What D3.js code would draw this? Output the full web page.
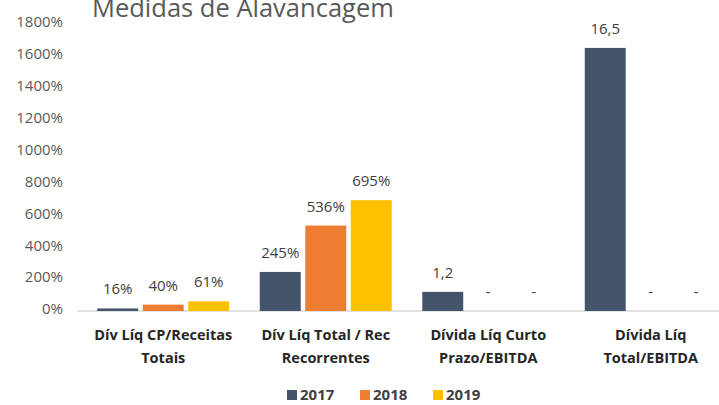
<!DOCTYPE html>
<html>
<head>
<meta charset="utf-8">
<script src="https://cdn.jsdelivr.net/npm/d3@7"></script>
<style>
    body { margin: 0; background: #fff; }
    #vis { width: 719px; height: 405px; overflow: hidden; }
    text { font-family: "Open Sans", sans-serif; }
</style>
</head>
<body>
<div id="vis"></div>
<script>
var categories = ['Dív Líq CP/Receitas|Totais', 'Dív Líq Total / Rec|Recorrentes', 'Dívida Líq Curto|Prazo/EBITDA', 'Dívida Líq|Total/EBITDA'];
var years = ['2017', '2018', '2019'];
var values2017 = [16, 245, 120, 1650];
var values2018 = [40, 536, 0, 0];
var values2019 = [61, 695, 0, 0];
var labels2017 = ['16%', '245%', '1,2', '16,5'];
var labels2018 = ['40%', '536%', '-', '-'];
var labels2019 = ['61%', '695%', '-', '-'];
var yTicks = [0, 200, 400, 600, 800, 1000, 1200, 1400, 1600, 1800];
var colours = ['#44546A', '#ED7D31', '#FFC000'];

var width = 719,
    height = 405;

var svg = d3.select('#vis')
    .append('svg')
    .attr('width', width)
    .attr('height', height);

// build rows from the arrays
var series = [values2017, values2018, values2019];
var seriesLabels = [labels2017, labels2018, labels2019];
var rows = categories.map(function(c, i) {
    return {
        category: c,
        bars: years.map(function(y, j) {
            return { year: y, value: series[j][i], label: seriesLabels[j][i], colour: colours[j] };
        })
    };
});

var x_scale = d3.scaleBand()
    .domain(categories)
    .range([82, 732])
    .paddingInner(0.188)
    .paddingOuter(0.094);

var x_inner = d3.scaleBand()
    .domain(years)
    .range([0, x_scale.bandwidth()])
    .paddingInner(0.1);

var y_scale = d3.scaleLinear()
    .domain([0, 1800])
    .range([311, 24]);

// title (cut off at the top, as in the original)
svg.append('text')
    .attr('x', 92)
    .attr('y', 17)
    .attr('fill', '#595959')
    .style('font-size', '25.5px')
    .text('Medidas de Alavancagem');

// y axis
var y_axis = d3.axisLeft(y_scale)
    .tickValues(yTicks)
    .tickSize(0)
    .tickPadding(0)
    .tickFormat(function(d) { return d + '%'; });

var yg = svg.append('g')
    .attr('class', 'y axis')
    .attr('transform', 'translate(63,-2)')
    .call(y_axis);
yg.select('.domain').remove();
yg.selectAll('text')
    .attr('fill', '#595959')
    .style('font-size', '15px')
    .style('font-family', '"Open Sans", sans-serif');

// baseline
svg.append('line')
    .attr('x1', 77)
    .attr('x2', width)
    .attr('y1', y_scale(0))
    .attr('y2', y_scale(0))
    .attr('stroke', '#d9d9d9')
    .attr('stroke-width', 1.5);

var groups = svg.selectAll('.group')
    .data(rows)
    .enter()
    .append('g')
    .attr('class', 'group')
    .attr('transform', function(d) { return 'translate(' + x_scale(d.category) + ',0)'; });

groups.selectAll('.bar')
    .data(function(d) { return d.bars; })
    .enter()
    .append('rect')
    .attr('class', 'bar')
    .attr('x', function(d) { return x_inner(d.year); })
    .attr('width', x_inner.bandwidth())
    .attr('y', function(d) { return y_scale(d.value); })
    .attr('height', function(d) { return y_scale(0) - y_scale(d.value); })
    .attr('fill', function(d) { return d.colour; });

groups.selectAll('.label')
    .data(function(d) { return d.bars; })
    .enter()
    .append('text')
    .attr('class', 'label')
    .attr('x', function(d) { return x_inner(d.year) + x_inner.bandwidth() / 2; })
    .attr('y', function(d) { return y_scale(d.value) - 14; })
    .attr('text-anchor', 'middle')
    .attr('fill', '#404040')
    .style('font-size', '15px')
    .text(function(d) { return d.label; });

// category labels
var cat = svg.selectAll('.cat')
    .data(categories)
    .enter()
    .append('text')
    .attr('class', 'cat')
    .attr('text-anchor', 'middle')
    .attr('fill', '#262626')
    .style('font-size', '14.5px')
    .style('font-weight', 'bold');

cat.selectAll('tspan')
    .data(function(d) { return d.split('|').map(function(t) { return { text: t, cat: d }; }); })
    .enter()
    .append('tspan')
    .attr('x', function(d) { return x_scale(d.cat) + x_scale.bandwidth() / 2; })
    .attr('y', function(d, i) { return 340 + i * 23; })
    .text(function(d) { return d.text; });

// legend
var legend = svg.selectAll('.legend')
    .data(years)
    .enter()
    .append('g')
    .attr('class', 'legend')
    .attr('transform', function(d, i) { return 'translate(' + (287 + i * 73) + ',394)'; });

legend.append('rect')
    .attr('x', 0)
    .attr('y', -4)
    .attr('width', 10)
    .attr('height', 10)
    .attr('fill', function(d, i) { return colours[i]; });

legend.append('text')
    .attr('x', 13)
    .attr('y', 6)
    .attr('fill', '#404040')
    .style('font-size', '15px')
    .style('font-weight', 'bold')
    .text(function(d) { return d; });
</script>
</body>
</html>
